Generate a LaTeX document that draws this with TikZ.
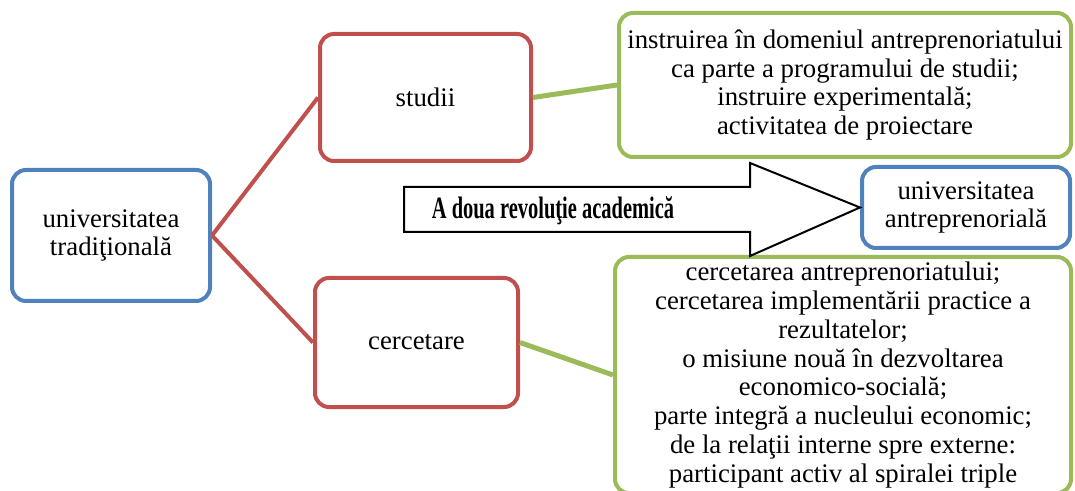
\documentclass[tikz,border=0pt]{standalone}
\usepackage{fontspec}
\setmainfont{Liberation Serif}
\usepackage{graphicx}
\definecolor{blueline}{HTML}{4F81BD}
\definecolor{redline}{HTML}{C0504D}
\definecolor{greenline}{HTML}{9BBB59}

\begin{document}
\begin{tikzpicture}[x=0.5pt,y=-0.5pt]
\tikzset{box/.style = {shape=rectangle,draw,rounded corners=7pt,line width=2pt,fill=white,align=center,inner sep=2pt,font=\fontsize{13.4}{14.4}\selectfont}}
\tikzset{bluebox/.style = {box,draw=blueline}}
\tikzset{redbox/.style = {box,draw=redline}}
\tikzset{greenbox/.style = {box,draw=greenline}}
\tikzset{rededge/.style = {draw=redline,line width=2pt}}
\tikzset{greenedge/.style = {draw=greenline,line width=2.5pt}}
\useasboundingbox (0,0) rectangle (1075,491);
% NODES
\node[bluebox,minimum width=99pt,minimum height=65.5pt] (trad) at (111,235.5) {universitatea\\tradiţională};
\node[redbox,minimum width=105.5pt,minimum height=63.5pt] (studii) at (425.5,97.5) {studii};
\node[redbox,minimum width=101.5pt,minimum height=64.5pt] (cerc) at (416.5,342.5) {cercetare};
\node[greenbox,minimum width=226pt,minimum height=72pt] (instr) at (845,85) {instruirea în domeniul antreprenoriatului\\ca parte a programului de studii;\\instruire experimentală;\\activitatea de proiectare};
\node[bluebox,minimum width=104pt,minimum height=40.5pt] (antr) at (966,207.5) {universitatea\\antreprenorială};
\node[greenbox,minimum width=228pt,minimum height=118pt] (misiune) at (843,375) {cercetarea antreprenoriatului;\\cercetarea implementării practice a\\rezultatelor;\\o misiune nouă în dezvoltarea\\economico-socială;\\parte integră a nucleului economic;\\de la relaţii interne spre externe:\\participant activ al spiralei triple};
% EDGES
\draw[rededge] (trad.east) -- (studii.west);
\draw[rededge] (trad.east) -- (cerc.west);
\draw[greenedge] (studii.east) -- (instr.west);
\draw[greenedge] (cerc.east) -- (misiune.west);
% BIG ARROW
\draw[line width=1pt,line join=miter] (404,187) -- (750,187) -- (750,163) -- (antr.west) -- (750,256) -- (750,232) -- (404,232) -- cycle;
\node[font=\bfseries\fontsize{15.5}{16}\selectfont] (rev) at (553,211) {\scalebox{0.66}[1]{A doua revoluţie academică}};
\end{tikzpicture}
\end{document}
